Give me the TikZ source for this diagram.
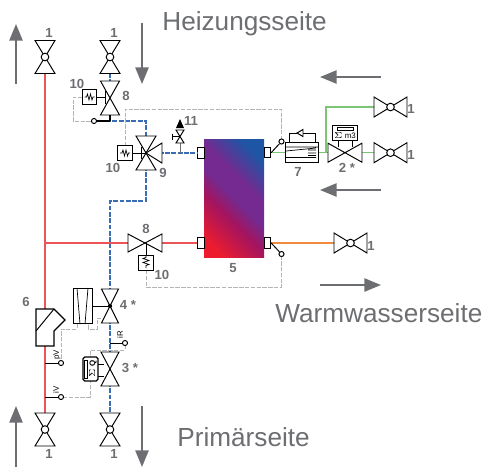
\documentclass[tikz,border=0pt]{standalone}
\usepackage{fontspec}
\setmainfont{Liberation Sans}
\usepackage{tikz}
\usepackage{xcolor}
\usetikzlibrary{arrows.meta,calc}

\definecolor{labelgrey}{HTML}{6D6E71}
\definecolor{ctrlgrey}{HTML}{B4B4B4}
\definecolor{hotred}{HTML}{EC5558}
\definecolor{coldblue}{HTML}{3A6DB5}
\definecolor{drinkgreen}{HTML}{7CC576}
\definecolor{warmorange}{HTML}{F08A3C}
\definecolor{tankred}{HTML}{EC1C2E}
\definecolor{tankrose}{HTML}{A3145F}
\definecolor{tankmid}{HTML}{742A90}
\definecolor{tankblue}{HTML}{1F55A5}
\pgfdeclareverticalshading{tankshade}{100bp}{color(0bp)=(tankred); color(22bp)=(tankred); color(40bp)=(tankrose); color(50bp)=(tankmid); color(60bp)=(tankmid); color(76bp)=(tankblue); color(100bp)=(tankblue)}

\tikzset{
  num/.style={font=\bfseries\fontsize{7.5}{8}\selectfont,text=labelgrey,inner sep=0pt},
  side/.style={font=\fontsize{14.9}{16}\selectfont,text=labelgrey,inner sep=0pt,anchor=base west},
  sense/.style={font=\fontsize{4.5}{5}\selectfont,rotate=90,inner sep=0pt},
  flow/.style={draw=labelgrey,line width=1.2pt,-{Triangle[length=9.5pt,width=7.5pt]}},
  ctrl/.style={draw=ctrlgrey,line width=0.55pt,dash pattern=on 2.5pt off 0.8pt},
  redpipe/.style={draw=hotred,line width=0.7pt},
  bluepipe/.style={draw=coldblue,line width=0.7pt,dash pattern=on 2.8pt off 0.8pt},
  greenpipe/.style={draw=drinkgreen,line width=0.7pt},
  orangepipe/.style={draw=warmorange,line width=0.7pt},
  sym/.style={draw=black,line width=0.55pt,fill=white},
  dot/.style={circle,sym,minimum size=2.9pt,inner sep=0pt},
  port/.style={rectangle,sym,minimum width=3.6pt,minimum height=5.8pt,inner sep=0pt},
  springbox/.style={rectangle,sym,minimum size=8pt,inner sep=0pt},
  pics/bowtie/.style={code={
    \draw[sym] (-17,-#1) -- (17,#1) -- (17,-#1) -- (-17,#1) -- cycle;
  }},
  pics/handvalve/.style={code={
    \draw[sym] (-16.5,-10) -- (16.5,10) -- (16.5,-10) -- (-16.5,10) -- cycle;
    \draw[sym] (0,0) circle (3.8);
  }},
}
\newcommand{\spring}[1]{%
  \draw[line width=0.4pt] ($(#1)+(-5,0)$) -- ++(2,0) -- ++(1,-3) -- ++(1.5,6) -- ++(1.5,-6) -- ++(1.5,6) -- ++(1,-3) -- ++(1.5,0);}

\begin{document}
\begin{tikzpicture}[x=0.02cm,y=-0.02cm]
  \useasboundingbox (0,0) rectangle (490,468);

  % Flow arrows
  \coordinate (upa) at (16,84);   \coordinate (upb) at (16,24);
  \coordinate (dna) at (142,23);  \coordinate (dnb) at (142,84);
  \coordinate (upc) at (16,467);  \coordinate (upd) at (16,406);
  \coordinate (dnc) at (142,406); \coordinate (dnd) at (142,467);
  \coordinate (lfa) at (381,77);  \coordinate (lfb) at (320,77);
  \coordinate (lfc) at (381,190); \coordinate (lfd) at (320,190);
  \coordinate (rta) at (320,285); \coordinate (rtb) at (381,285);
  \foreach \a/\b in {upa/upb,dna/dnb,upc/upd,dnc/dnd,lfa/lfb,lfc/lfd,rta/rtb}
    \draw[flow] (\a) -- (\b);

  % Side labels
  \node[side] (heiz) at (162,30) {Heizungsseite};
  \node[side] (warm) at (275,322) {Warmwasserseite};
  \node[side] (prim) at (177,446) {Primärseite};

  % Storage tank
  \shade[shading=tankshade,shading angle=-45] (204,139) rectangle (264,257);
  \node[port] (portha) at (201,153) {};
  \node[port] (porthb) at (201,243) {};
  \node[port] (portca) at (267.5,152.7) {};
  \node[port] (portcb) at (267.5,243) {};

  % Coordinates on the pipes
  \coordinate (redtop) at (45,73);
  \coordinate (redbot) at (45,413);
  \coordinate (redtee) at (45,243);
  \coordinate (vsix) at (45,309);
  \coordinate (vsixb) at (45,346);
  \coordinate (valveeight) at (145,243);
  \coordinate (valvenine) at (146,153);
  \coordinate (valvefour) at (110,306);
  \coordinate (valvethree) at (110,369);
  \coordinate (valvetop) at (110,98);
  \coordinate (valvetwo) at (345,152.7);

  % Primary and heating pipes
  \draw[redpipe] (redtop) -- (vsix);
  \draw[redpipe] (vsixb) -- (redbot);
  \draw[redpipe] (redtee) -- (valveeight) -- (porthb);
  \draw[bluepipe] (110,73) -- (valvetop);
  \draw[bluepipe] (valvetop) -- (110,121) -- (146,121) -- (valvenine);
  \draw[bluepipe] (valvenine) -- (portha);
  \draw[bluepipe] (valvenine) -- (146,201) -- (110,201) -- (valvefour);
  \draw[bluepipe] (valvefour) -- (valvethree) -- (110,413);
  \draw[greenpipe] (portca) -- (valvetwo) -- (374,152.7);
  \draw[greenpipe] (326,152.7) -- (326,107) -- (374,107);
  \draw[orangepipe] (portcb) -- (334,243);

  % Control lines
  \draw[ctrl] (82,97) -- (73,97) -- (73,121) -- (92,121);
  \draw[ctrl] (125,146) -- (125,109) -- (281.5,109) -- (281.5,140);
  \draw[ctrl] (146,270) -- (146,287) -- (281.5,287) -- (281.5,256);
  \draw[ctrl] (101,318) -- (97,318) -- (97,329) -- (88,329) -- (88,324);
  \draw[ctrl] (77,324) -- (77,329) -- (61,329) -- (61,361);
  \draw[ctrl] (125,345) -- (125,350) -- (90,350) -- (90,357);
  \draw[ctrl] (63,397) -- (90,397) -- (90,381);

  % Hand valves
  \foreach \p/\r in {45/57,110/57,45/429.5,110/429.5}
    \pic[rotate=90] at (\p,\r) {handvalve};
  \foreach \p/\r in {390.5/107,390.5/152.7,350.5/243}
    \pic at (\p,\r) {handvalve};
  \foreach \p/\r in {49/33,114/33,49/454,114/454,411/109,411/155,371/246}
    \node[num] at (\p,\r) {1};

  % Valve 8 at the top
  \pic[rotate=90] at (valvetop) {bowtie=9.5};
  \node[springbox] (boxa) at (89.5,97) {};
  \spring{boxa}
  \draw[sym] (boxa.east) -- (105,97) (105,91) -- (105,104);
  \node[dot] (dota) at (94,121) {};
  \draw[line width=0.6pt] (dota) -- (110,121);
  \draw[line width=0.6pt] (110,115) -- (110,121);
  \node[num] at (126,96) {8};
  \node[num] at (77,84) {10};

  % Three way valve 9
  \pic[rotate=90] at (valvenine) {bowtie=10};
  \draw[sym] (valvenine) -- (162,143) -- (162,163) -- cycle;
  \node[springbox] (boxb) at (125,153) {};
  \spring{boxb}
  \draw[sym] (boxb.east) -- (valvenine);
  \draw[sym] (141,147) -- (141,159);
  \node[num] at (163,173) {9};
  \node[num] at (113,168) {10};

  % Bleed valve 11
  \draw[labelgrey,line width=0.5pt] (180,153) -- (180,143);
  \draw[sym] (176,130) -- (184,143) -- (176,143) -- (184,130) -- cycle;
  \draw[sym] (180,136.5) -- (172,136.5) (172,133.5) -- (172,139.5);
  \fill[black] (180,119) -- (184,128) -- (176,128) -- cycle;
  \node[num] at (191,121) {11};

  % Valve 8 at the bottom
  \pic at (valveeight) {bowtie=9};
  \node[springbox] (boxc) at (146,263) {};
  \draw[sym] (146,243) -- (boxc.north);
  \draw[line width=0.4pt] (146,256) -- ++(0,1.5) -- ++(-3,1) -- ++(6,2) -- ++(-6,2) -- ++(6,2) -- ++(-3,1) -- ++(0,2.5);
  \node[num] at (146,229) {8};
  \node[num] at (162,275) {10};
  \node[num] at (233,268) {5};

  % Sensors at the plate heat exchanger
  \node[dot] (dotb) at (281.5,141.5) {};
  \node[dot] (dotc) at (281.5,254) {};
  \draw[sym] (portca.east) -- (dotb);
  \draw[sym] (portcb.east) -- (dotc);

  % Circulation 7
  \draw[sym,fill=none] (289,142) -- (289,133) -- (315,133) -- (315,142);
  \draw[sym] (303,129.5) -- (303,136.5) -- (297,133) -- cycle;
  \node[rectangle,sym,minimum width=18.4pt,minimum height=11.4pt,inner sep=0pt] (pump) at (302,152) {};
  \draw[line width=0.4pt] (286,151) -- (316,148) (286,157.5) -- (316,157.5) (286,147) -- (318,147)
    (308,150) -- (316,150) (308,153) -- (316,153) (308,155.5) -- (316,155.5);
  \node[num] at (298,172) {7};

  % Meter valve 2
  \pic at (valvetwo) {bowtie=9.5};
  \node[rectangle,sym,minimum width=14.2pt,minimum height=8.2pt,inner sep=0pt] (meta) at (345,133) {};
  \draw[line width=0.5pt] (338,140) -- (338,147) (352,140) -- (352,147);
  \draw[line width=0.5pt] (337,127.5) rectangle (353,130.5);
  \node[font=\fontsize{4.5}{5}\selectfont,inner sep=0pt] (metb) at (345,135.5) {$\Sigma$ m3};
  \node[num] at (347,168) {2 *};

  % Valve 4
  \pic[rotate=90] at (valvefour) {bowtie=8.5};
  \node[circle,fill=black,minimum size=2.4pt,inner sep=0pt] (dotd) at (valvefour) {};
  \node[rectangle,sym,minimum width=10.8pt,minimum height=20.4pt,inner sep=0pt] (motor) at (82.5,306) {};
  \draw[line width=0.4pt] (77,288) -- (80,324) (88,288) -- (85,324);
  \draw[sym] (motor.east) -- (dotd);
  \node[num] at (128,305) {4 *};

  % Meter valve 3
  \pic[rotate=90] at (valvethree) {bowtie=9};
  \node[rectangle,sym,line width=0.7pt,rounded corners=1pt,minimum width=8.5pt,minimum height=13.6pt,inner sep=0pt] (metc) at (90.5,369) {};
  \draw[line width=0.5pt] (98,364) -- (104,364) (98,376) -- (104,376);
  \draw[line width=0.5pt] (84.5,360) rectangle (87.5,378);
  \node[font=\bfseries\fontsize{4.5}{5}\selectfont,inner sep=0pt,rotate=90] (metd) at (93,369) {$\Sigma$ Q};
  \node[num] at (130,368) {3 *};

  % Valve 6
  \draw[sym,line width=0.7pt] (36,309) -- (54,309) -- (65,320) -- (54,331) -- (54,346) -- (36,346) -- cycle;
  \draw[sym,fill=none] (36,331) -- (54,309);
  \node[num] at (26,302) {6};

  % Temperature and pressure sensors
  \node[dot] (dote) at (61,363) {};
  \node[dot] (dotf) at (61,397) {};
  \node[dot] (dotg) at (125,343) {};
  \draw[line width=0.5pt] (45,363) -- (dote);
  \draw[line width=0.5pt] (45,397) -- (dotf);
  \draw[line width=0.5pt] (110,343) -- (dotg);
  \node[sense] at (57,355) {pV};
  \node[sense] at (56,390) {iV};
  \node[sense] at (120,335) {iR};
\end{tikzpicture}
\end{document}
